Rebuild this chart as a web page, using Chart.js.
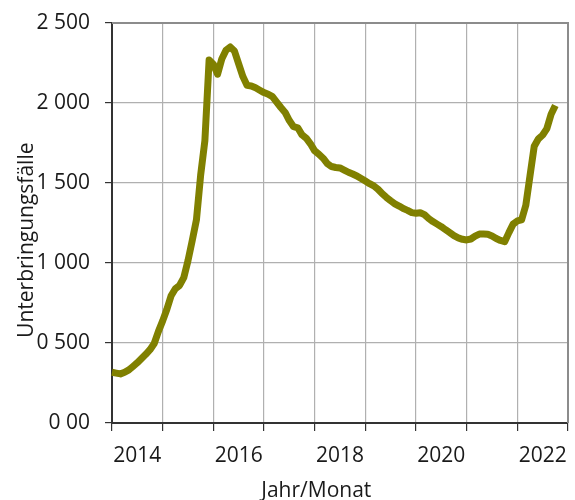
<!DOCTYPE html>
<html lang="de">
<head>
    <meta charset="UTF-8">
    <title>Unterbringungsfälle</title>
    <script src="https://cdn.jsdelivr.net/npm/chart.js@4.4.0/dist/chart.umd.min.js"></script>
    <style>
        body { margin: 0; background: #fff; }
        #wrap { width: 575px; height: 500px; }
    </style>
</head>
<body>
<div id="wrap"><canvas id="chart" width="575" height="500"></canvas></div>
<script>
// monthly values, Jan 2014 - Oct 2022
const values2014 = [317, 312, 307, 317, 332, 354, 377, 403, 429, 458, 497, 573];
const values2015 = [638, 711, 795, 839, 860, 909, 1015, 1140, 1270, 1550, 1765, 2269];
const values2016 = [2243, 2180, 2275, 2330, 2350, 2325, 2245, 2165, 2110, 2106, 2095, 2080];
const values2017 = [2065, 2055, 2040, 2006, 1972, 1941, 1890, 1852, 1845, 1801, 1780, 1745];
const values2018 = [1701, 1680, 1655, 1621, 1603, 1597, 1594, 1581, 1567, 1556, 1544, 1528];
const values2019 = [1512, 1496, 1482, 1461, 1433, 1410, 1389, 1370, 1356, 1340, 1329, 1315];
const values2020 = [1311, 1314, 1302, 1278, 1259, 1243, 1227, 1208, 1190, 1171, 1157, 1148];
const values2021 = [1144, 1150, 1168, 1181, 1181, 1180, 1169, 1153, 1141, 1133, 1190, 1243];
const values2022 = [1263, 1269, 1360, 1545, 1730, 1776, 1800, 1840, 1930, 1985];

const years = [2014, 2015, 2016, 2017, 2018, 2019, 2020, 2021, 2022];
const xTickYears = ['2014', '2016', '2018', '2020', '2022'];
const yTickLabels = ['0 00', '0 500', '1 000', '1 500', '2 000', '2 500'];
const xTitle = 'Jahr/Monat';
const yTitle = 'Unterbringungsfälle';

const values = [].concat(values2014, values2015, values2016, values2017, values2018,
    values2019, values2020, values2021, values2022);

// month labels "Jahr/Monat", running up to Jan 2023 so the axis ends at a year line
const months = [];
years.forEach(y => {
    for (let m = 1; m <= 12; m++) months.push(y + '/' + String(m).padStart(2, '0'));
});
months.push('2023/01');

const font = { family: 'Open Sans', size: 21 };
const textColor = '#1a1a1a';

// top and right frame of the plot area
const frame = {
    id: 'frame',
    beforeDatasetsDraw(chart) {
        const { ctx, chartArea: a } = chart;
        ctx.save();
        ctx.strokeStyle = '#8c8c8c';
        ctx.lineWidth = 2;
        ctx.beginPath();
        ctx.moveTo(a.left, a.top);
        ctx.lineTo(a.right, a.top);
        ctx.lineTo(a.right, a.bottom);
        ctx.stroke();
        ctx.restore();
    }
};

// axis titles sit a bit off-centre in the original, so place them by hand
const axisTitles = {
    id: 'axisTitles',
    afterDraw(chart) {
        const { ctx, chartArea: a } = chart;
        ctx.save();
        ctx.font = font.size + 'px "' + font.family + '"';
        ctx.fillStyle = textColor;
        ctx.textAlign = 'center';
        ctx.textBaseline = 'alphabetic';
        ctx.fillText(xTitle, a.left + a.width * 0.448, a.bottom + 74);
        ctx.translate(33, a.top + a.height * 0.543);
        ctx.rotate(-Math.PI / 2);
        ctx.fillText(yTitle, 0, 0);
        ctx.restore();
    }
};

new Chart(document.getElementById('chart'), {
    type: 'line',
    data: {
        labels: months,
        datasets: [{
            data: values,
            borderColor: '#808000',
            backgroundColor: '#808000',
            borderWidth: 7,
            borderJoinStyle: 'round',
            pointRadius: 0,
            tension: 0,
            fill: false
        }]
    },
    options: {
        responsive: false,
        animation: false,
        layout: { padding: { top: 23, right: 7, left: 0, bottom: 0 } },
        plugins: { legend: { display: false }, tooltip: { enabled: false } },
        scales: {
            x: {
                offset: false,
                afterFit: s => { s.height = 77; s.paddingLeft = 0; s.paddingRight = 0; },
                grid: {
                    color: c => (c.index % 12 === 0 ? '#b0b0b0' : 'rgba(0,0,0,0)'),
                    tickColor: c => (c.index % 12 === 0 ? '#333' : 'rgba(0,0,0,0)'),
                    tickLength: 8,
                    lineWidth: 1.2
                },
                border: { color: '#333', width: 2 },
                ticks: {
                    autoSkip: false,
                    maxRotation: 0,
                    padding: 12,
                    color: textColor,
                    font: font,
                    callback: function (v, i) {
                        const lab = months[i];
                        if (!lab || !lab.endsWith('/07')) return '';
                        const y = lab.slice(0, 4);
                        return xTickYears.includes(y) ? y : '';
                    }
                }
            },
            y: {
                min: 0,
                max: 2500,
                afterFit: s => { s.width = 112; s.paddingTop = 0; s.paddingBottom = 0; },
                grid: { color: '#b0b0b0', tickColor: '#333', tickLength: 7, lineWidth: 1.2 },
                border: { color: '#333', width: 2 },
                ticks: {
                    stepSize: 500,
                    padding: 15,
                    color: textColor,
                    font: font,
                    callback: v => yTickLabels[v / 500]
                }
            }
        }
    },
    plugins: [frame, axisTitles]
});
</script>
</body>
</html>
